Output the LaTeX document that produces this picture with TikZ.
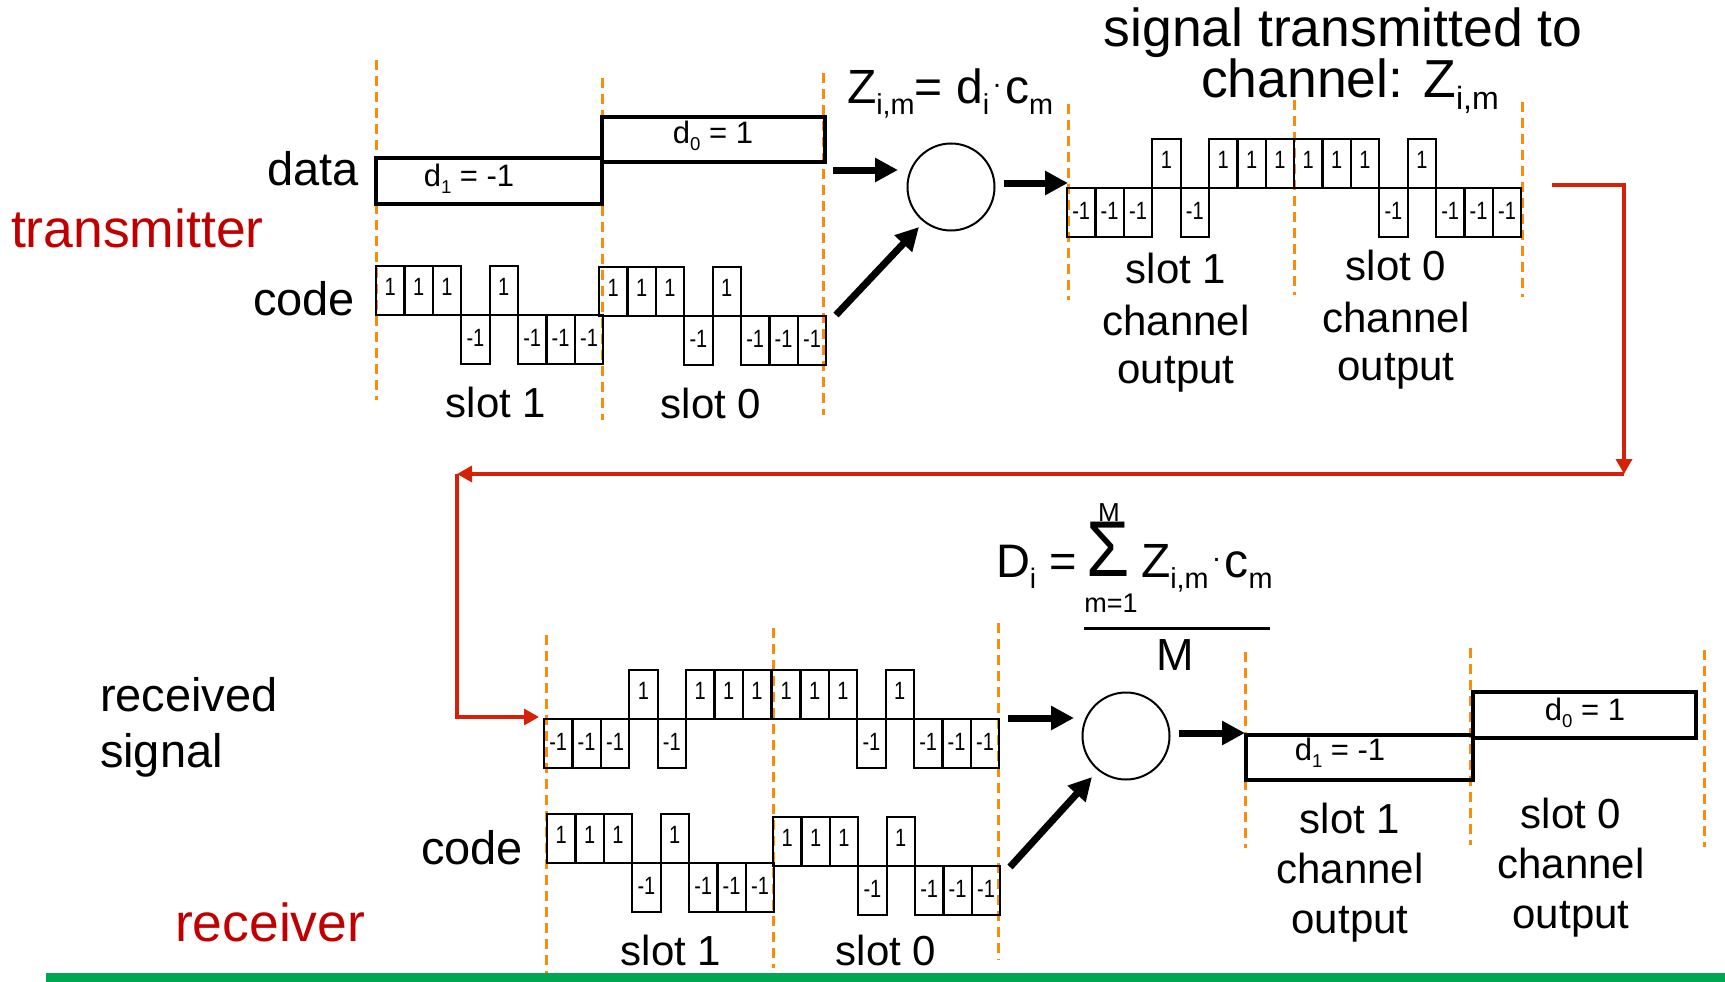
\documentclass[tikz,border=0pt]{standalone}
\usepackage{graphicx}
\usepackage{fontspec}
\setmainfont{Liberation Sans}
\usetikzlibrary{arrows.meta}
\definecolor{dashor}{RGB}{250,140,10}
\definecolor{linered}{RGB}{212,33,8}
\definecolor{txtred}{RGB}{192,0,0}
\definecolor{bargreen}{RGB}{0,166,81}
\newcommand\dn[1]{\raisebox{-0.24em}{\scalebox{0.6}{#1}}}
\newcommand\dotop{\hspace{4pt}\raisebox{0.33em}{\scalebox{0.6}{.}}\hspace{4pt}}
\newcommand\fs[1]{\fontsize{#1}{#1}\selectfont}
% #1 name prefix, #2 x0, #3 y of middle line, #4 list of chip values
\newcommand\chipseq[4]{%
  \foreach \v [count=\k from 0] in {#4} {%
    \pgfmathsetmacro\xa{#2+\k*28.4}%
    \pgfmathsetmacro\xb{#2+(\k+1)*28.4}%
    \pgfmathsetmacro\xm{#2+(\k+0.5)*28.4}%
    \ifnum\v>0
      \draw[chip] (\xa,#3) rectangle (\xb,#3-49);
      \node[chiplbl] (#1-\k) at (\xm,#3-20) {\scalebox{0.8}[1]{1}};
    \else
      \draw[chip] (\xa,#3) rectangle (\xb,#3+49);
      \node[chiplbl] (#1-\k) at (\xm,#3+31) {\scalebox{0.8}[1]{-1}};
    \fi
  }%
}
\begin{document}
\begin{tikzpicture}[x=1pt,y=-1pt,
  txt/.style={inner sep=0pt, outer sep=0pt, anchor=base},
  chip/.style={draw=black, line width=2.2pt},
  chiplbl/.style={inner sep=0pt, anchor=base, font=\fs{25}},
  databox/.style={draw=black, line width=4pt},
  slotline/.style={draw=dashor, line width=3pt, dash pattern=on 10pt off 6pt},
  mixer/.style={draw=black, circle, line width=2pt, minimum size=87pt, inner sep=0pt},
  bigarrow/.style={draw=black, line width=7pt, -{Triangle[length=23pt,width=23pt]}},
  redarrow/.style={draw=linered, line width=3.3pt, -{Triangle[length=15pt,width=16pt]}},
  fracline/.style={draw=black, line width=3pt}
]
\useasboundingbox (0,0) rectangle (1725,982);
\fill[white] (0,0) rectangle (1725,982);

% ---------------- transmitter ----------------
\draw[slotline] (376,60) -- (376,400);
\draw[slotline] (602,78) -- (602,420);
\draw[slotline] (823,73) -- (823,415);

\draw[databox] (376,158) rectangle (602,204);
\draw[databox] (602,117) rectangle (825,162);
\node[txt, font=\fs{31}] (d1a) at (469,186) {d\dn{1} = -1};
\node[txt, font=\fs{31}] (d0a) at (713,143) {d\dn{0} = 1};

\chipseq{tca}{376}{315}{1,1,1,-1,1,-1,-1,-1}
\chipseq{tcb}{599}{316}{1,1,1,-1,1,-1,-1,-1}

\node[txt, anchor=base east, font=\fs{47}] (datalbl) at (359,185) {data};
\node[txt, anchor=base west, font=\fs{53.5}, text=txtred] (txlbl) at (11,247) {transmitter};
\node[txt, anchor=base east, font=\fs{47}] (codelbl1) at (355,315) {code};
\node[txt, font=\fs{42}] (s1a) at (496,417) {slot 1};
\node[txt, font=\fs{42}] (s0a) at (711,418) {slot 0};

\node[mixer] (mix1) at (951,187) {};
\node[txt, anchor=base west, font=\fs{48}] (zform) at (847,103) {Z\dn{i,m}= d\dn{i}\dotop c\dn{m}};

\coordinate (a1s) at (833,170); \coordinate (a1e) at (898,170);
\coordinate (a2s) at (836,315); \coordinate (a2e) at (919,227);
\coordinate (a3s) at (1004,183); \coordinate (a3e) at (1068,183);
\draw[bigarrow] (a1s) -- (a1e);
\draw[bigarrow] (a2s) -- (a2e);
\draw[bigarrow] (a3s) -- (a3e);

% channel signal
\draw[slotline] (1068,104) -- (1068,300);
\draw[slotline] (1294,100) -- (1294,295);
\draw[slotline] (1522,102) -- (1522,297);
\chipseq{zsa}{1067}{188}{-1,-1,-1,1,-1,1,1,1}
\chipseq{zsb}{1294}{188}{1,1,1,-1,1,-1,-1,-1}

\node[txt, font=\fs{53.5}] (title1) at (1343,47) {signal transmitted to};
\node[txt, font=\fs{53.5}] (title2) at (1350,97) {channel: Z\dn{i,m}};

\node[txt, font=\fs{42}] (tr1a) at (1176,283) {slot 1};
\node[txt, font=\fs{42}] (tr1b) at (1176,335) {channel};
\node[txt, font=\fs{42}] (tr1c) at (1176,383) {output};
\node[txt, font=\fs{42}] (tr0a) at (1396,280) {slot 0};
\node[txt, font=\fs{42}] (tr0b) at (1396,332) {channel};
\node[txt, font=\fs{42}] (tr0c) at (1396,380) {output};

% ---------------- red link ----------------
\coordinate (r0) at (1552,185);
\coordinate (r2) at (1624,474);
\coordinate (r3) at (457,474);
\coordinate (r5) at (539,717);
\draw[redarrow] (r0) -| (r2);
\draw[redarrow] (r2) -- (r3);
\draw[redarrow] (r3) |- (r5);

% ---------------- receiver ----------------
\draw[slotline] (546,635) -- (546,977);
\draw[slotline] (773,628) -- (773,968);
\draw[slotline] (998.5,623) -- (998.5,960);

\chipseq{rsa}{544}{719}{-1,-1,-1,1,-1,1,1,1}
\chipseq{rsb}{772}{719}{1,1,1,-1,1,-1,-1,-1}
\chipseq{rca}{547}{863}{1,1,1,-1,1,-1,-1,-1}
\chipseq{rcb}{773}{866}{1,1,1,-1,1,-1,-1,-1}

\node[txt, anchor=base west, font=\fs{47}] (rx1) at (100,711) {received};
\node[txt, anchor=base west, font=\fs{47}] (rx2) at (100,767) {signal};
\node[txt, anchor=base east, font=\fs{47}] (codelbl2) at (523,864) {code};
\node[txt, anchor=base west, font=\fs{53.5}, text=txtred] (rxlbl) at (175,941) {receiver};
\node[txt, font=\fs{42}] (s1b) at (671,965) {slot 1};
\node[txt, font=\fs{42}] (s0b) at (886,965) {slot 0};

\node[mixer] (mix2) at (1126,736) {};
\coordinate (b1s) at (1008,718); \coordinate (b1e) at (1074,718);
\coordinate (b2s) at (1010,867); \coordinate (b2e) at (1092,777);
\coordinate (b3s) at (1179,733); \coordinate (b3e) at (1245,733);
\draw[bigarrow] (b1s) -- (b1e);
\draw[bigarrow] (b2s) -- (b2e);
\draw[bigarrow] (b3s) -- (b3e);

% formula
\node[txt, anchor=base west, font=\fs{47}] (dform) at (996,577) {D\dn{i} =};
\node[txt, font=\fs{70}] (sigma) at (1108,576) {\scalebox{1}[1.13]{Σ}};
\node[txt, font=\fs{26}] (sigtop) at (1109,521) {M};
\node[txt, font=\fs{27}] (sigbot) at (1111,612) {m=1};
\node[txt, anchor=base west, font=\fs{48}] (zc) at (1141,577) {Z\dn{i,m}\dotop c\dn{m}};
\coordinate (fl1) at (1084,628); \coordinate (fl2) at (1270,628);
\draw[fracline] (fl1) -- (fl2);
\node[txt, font=\fs{45}] (den) at (1175,670) {M};

% output
\draw[slotline] (1245,652) -- (1245,848);
\draw[slotline] (1470,648) -- (1470,845);
\draw[slotline] (1704,650) -- (1704,847);
\draw[databox] (1246,735) rectangle (1473,780);
\draw[databox] (1473,692) rectangle (1696,738);
\node[txt, font=\fs{31}] (d1b) at (1340,760) {d\dn{1} = -1};
\node[txt, font=\fs{31}] (d0b) at (1585,720) {d\dn{0} = 1};

\node[txt, font=\fs{42}] (br1a) at (1350,833) {slot 1};
\node[txt, font=\fs{42}] (br1b) at (1350,883) {channel};
\node[txt, font=\fs{42}] (br1c) at (1350,933) {output};
\node[txt, font=\fs{42}] (br0a) at (1571,828) {slot 0};
\node[txt, font=\fs{42}] (br0b) at (1571,878) {channel};
\node[txt, font=\fs{42}] (br0c) at (1571,928) {output};

\fill[bargreen] (46,973) rectangle (1725,982);
\end{tikzpicture}
\end{document}
